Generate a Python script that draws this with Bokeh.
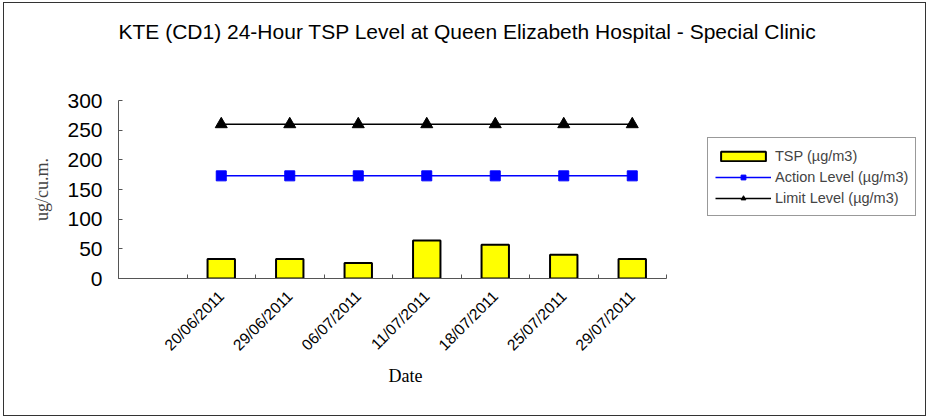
import math
from bokeh.plotting import figure
from bokeh.models import FixedTicker, Legend, LegendItem, ColumnDataSource, Title
from bokeh.embed import file_html
from bokeh.resources import INLINE

# ---- data ----
dates = ["20/06/2011", "29/06/2011", "06/07/2011", "11/07/2011",
         "18/07/2011", "25/07/2011", "29/07/2011"]
tsp = [33, 33, 26, 64, 57, 40, 33]
action_level = [173, 173, 173, 173, 173, 173, 173]
limit_level = [260, 260, 260, 260, 260, 260, 260]
y_ticks = [0, 50, 100, 150, 200, 250, 300]

# one empty category slot before the dates (as in the original chart)
n_slots = len(dates) + 1
xs = [i + 1.5 for i in range(len(dates))]
boundaries = list(range(0, n_slots + 1))

# layout: the category area is 548px wide; the frame continues to the right
# (without axis) so that the legend can sit inside it
W, H = 923, 414
MB_LEFT, MB_RIGHT, MB_TOP, MB_BOTTOM = 114, 4, 97, 139
CAT_PX = 548
frame_w = W - MB_LEFT - MB_RIGHT
x_end = n_slots * frame_w / CAT_PX

src = ColumnDataSource(dict(x=xs, tsp=tsp, action=action_level, limit=limit_level))

p = figure(width=W, height=H, output_backend="svg", toolbar_location=None,
           x_range=(0, x_end), y_range=(0, 300),
           min_border_left=MB_LEFT, min_border_right=MB_RIGHT,
           min_border_top=MB_TOP, min_border_bottom=MB_BOTTOM,
           title="KTE (CD1) 24-Hour TSP Level at Queen Elizabeth Hospital - Special Clinic")
p.styles = {"border": "1px solid #333333", "margin": "2px 0px 0px 3px"}

p.outline_line_color = None
p.grid.grid_line_color = None
p.background_fill_color = "white"
p.border_fill_color = "white"

# spacer between plot area and title
p.add_layout(Title(text=" ", text_font_size="10px", standoff=45), "above")

# title
p.title.align = "left"
p.title.vertical_align = "bottom"
p.title.text_font = "Liberation Sans"
p.title.text_font_style = "normal"
p.title.text_font_size = "21px"
p.title.text_color = "black"
p.title.offset = 0
p.title.standoff = 0

# y axis
p.yaxis.ticker = FixedTicker(ticks=y_ticks)
p.yaxis.axis_label = "ug/cu.m."
p.yaxis.axis_label_text_font = "Liberation Serif"
p.yaxis.axis_label_text_font_style = "normal"
p.yaxis.axis_label_text_font_size = "18px"
p.yaxis.axis_label_standoff = 12
p.yaxis.major_label_text_font = "Liberation Sans"
p.yaxis.major_label_text_font_size = "21px"
p.yaxis.major_label_text_color = "black"
p.yaxis.major_label_standoff = 16
p.yaxis.major_tick_in = 4
p.yaxis.major_tick_out = 0
p.yaxis.minor_tick_line_color = None
p.yaxis.axis_line_color = "#555555"
p.yaxis.major_tick_line_color = "#555555"

# x axis
p.xaxis.bounds = (0, n_slots)
p.xaxis.ticker = FixedTicker(ticks=xs, minor_ticks=boundaries)
p.xaxis.major_label_overrides = {x: d for x, d in zip(xs, dates)}
p.xaxis.major_label_orientation = math.pi / 4
p.xaxis.major_label_text_font = "Liberation Sans"
p.xaxis.major_label_text_font_size = "15.5px"
p.xaxis.major_label_text_color = "black"
p.xaxis.major_label_standoff = 9
p.xaxis.major_tick_line_color = None
p.xaxis.minor_tick_in = 4
p.xaxis.minor_tick_out = 0
p.xaxis.minor_tick_line_color = "#555555"
p.xaxis.axis_line_color = "#555555"

# x-axis title, centred under the category area
x_title = Title(text="Date", align="left", offset=270, standoff=2,
                text_font="Liberation Serif", text_font_style="normal",
                text_font_size="18px", text_color="black")
p.add_layout(x_title, "below")

# glyphs
bars = p.vbar(x="x", top="tsp", width=0.4, source=src,
              fill_color="yellow", line_color="black", line_width=2)
a_line = p.line(x="x", y="action", source=src, line_color="blue", line_width=1.5)
a_mark = p.scatter(x="x", y="action", source=src, marker="square", size=10,
                   fill_color="blue", line_color="blue")
l_line = p.line(x="x", y="limit", source=src, line_color="black", line_width=1.5)
l_mark = p.scatter(x="x", y="limit", source=src, marker="triangle", size=12,
                   fill_color="black", line_color="black")

legend = Legend(items=[
    LegendItem(label="TSP (µg/m3)", renderers=[bars]),
    LegendItem(label="Action Level (µg/m3)", renderers=[a_line, a_mark]),
    LegendItem(label="Limit Level (µg/m3)", renderers=[l_line, l_mark]),
], location=(589, 62))
legend.label_text_font = "Liberation Sans"
legend.label_text_font_size = "14.5px"
legend.glyph_width = 56
legend.glyph_height = 12
legend.label_height = 21
legend.label_standoff = 4
legend.spacing = 0
legend.padding = 7
legend.margin = 0
legend.border_line_color = "#333333"
legend.border_line_width = 1
legend.background_fill_color = "white"
p.add_layout(legend)

open("out.html", "w").write(file_html(p, INLINE))
